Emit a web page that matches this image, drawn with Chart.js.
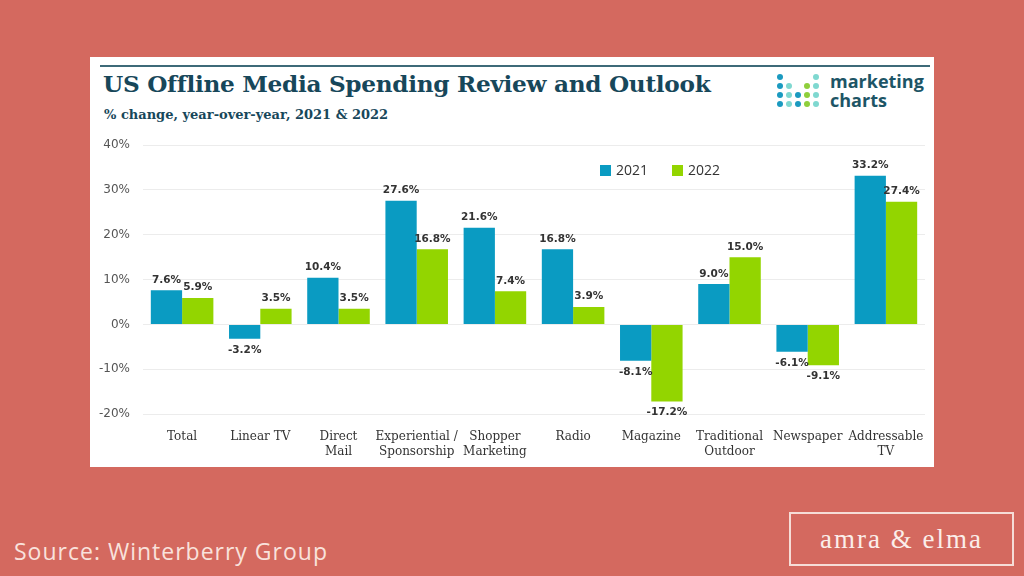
<!DOCTYPE html>
<html>
<head>
<meta charset="utf-8">
<script src="https://cdn.jsdelivr.net/npm/chart.js@4"></script>
<style>
  html, body { margin: 0; padding: 0; }
  body { width: 1024px; height: 576px; background: #d4695f; position: relative; overflow: hidden; font-family: "DejaVu Sans", sans-serif; }
  #panel { position: absolute; left: 90px; top: 57px; width: 844px; height: 410px; background: #fff; }
  #rule { position: absolute; left: 10px; top: 8px; width: 830px; height: 2px; background: #3d6a78; }
  #title { position: absolute; left: 13px; top: 13px; font-family: "DejaVu Serif", serif; font-weight: bold; font-size: 23.2px; color: #17475a; white-space: nowrap; letter-spacing: -0.3px; }
  #subtitle { position: absolute; left: 14px; top: 50px; font-family: "DejaVu Serif", serif; font-weight: bold; font-size: 13px; color: #17475a; white-space: nowrap; }
  #logo { position: absolute; left: 686px; top: 16px; }
  #logotext { position: absolute; left: 740px; top: 15px; font-family: "Open Sans", sans-serif; font-weight: bold; font-size: 18px; line-height: 19px; color: #1d5566; }
  #wrap { position: absolute; left: 90px; top: 125px; width: 844px; height: 340px; }
  #legend { position: absolute; left: 600px; top: 160px; font-family: "Open Sans", sans-serif; font-size: 14px; color: #333; }
  #legend span.sw { display: inline-block; width: 11px; height: 11px; margin-right: 5px; vertical-align: -1px; }
  #legend span.it { margin-right: 24px; }
  #source { position: absolute; left: 14px; top: 535px; font-family: "Open Sans", sans-serif; font-size: 23px; letter-spacing: 1px; color: #f9e2dc; }
  #brand { position: absolute; left: 789px; top: 512px; width: 225px; height: 54px; border: 2px solid #f6ddd7; box-sizing: border-box; color: #fbeeea; font-family: "Liberation Serif", serif; font-size: 27px; text-align: center; line-height: 50px; letter-spacing: 2px; }
</style>
</head>
<body>
<div id="panel">
  <div id="rule"></div>
  <div id="title">US Offline Media Spending Review and Outlook</div>
  <div id="subtitle">% change, year-over-year, 2021 &amp; 2022</div>
  <svg id="logo" width="44" height="40" viewBox="0 0 44 40">
    <circle cx="4" cy="4" r="3" fill="#1b9ac0"/>
    <circle cx="40" cy="4" r="3" fill="#7fd8d0"/>
    <circle cx="4" cy="13" r="3" fill="#1b9ac0"/>
    <circle cx="13" cy="13" r="3" fill="#7fd8d0"/>
    <circle cx="31" cy="13" r="3" fill="#8fcf3c"/>
    <circle cx="40" cy="13" r="3" fill="#7fd8d0"/>
    <circle cx="4" cy="22" r="3" fill="#1b9ac0"/>
    <circle cx="13" cy="22" r="3" fill="#7fd8d0"/>
    <circle cx="22" cy="22" r="3" fill="#1b9ac0"/>
    <circle cx="31" cy="22" r="3" fill="#8fcf3c"/>
    <circle cx="40" cy="22" r="3" fill="#7fd8d0"/>
    <circle cx="4" cy="31" r="3" fill="#1b9ac0"/>
    <circle cx="13" cy="31" r="3" fill="#7fd8d0"/>
    <circle cx="22" cy="31" r="3" fill="#1b9ac0"/>
    <circle cx="31" cy="31" r="3" fill="#8fcf3c"/>
    <circle cx="40" cy="31" r="3" fill="#7fd8d0"/>
  </svg>
  <div id="logotext">marketing<br>charts</div>
</div>
<div id="wrap"><canvas id="chart"></canvas></div>
<div id="legend"><span class="it"><span class="sw" style="background:#0a9bc2"></span>2021</span><span><span class="sw" style="background:#93d500"></span>2022</span></div>
<div id="source">Source: Winterberry Group</div>
<div id="brand">amra &amp; elma</div>

<script>
const categories = ["Total", "Linear TV", ["Direct", "Mail"], ["Experiential /", "Sponsorship"], ["Shopper", "Marketing"], "Radio", "Magazine", ["Traditional", "Outdoor"], "Newspaper", ["Addressable", "TV"]];
const values2021 = [7.6, -3.2, 10.4, 27.6, 21.6, 16.8, -8.1, 9.0, -6.1, 33.2];
const values2022 = [5.9, 3.5, 3.5, 16.8, 7.4, 3.9, -17.2, 15.0, -9.1, 27.4];
const yTicks = [-20, -10, 0, 10, 20, 30, 40];

// value labels above / below each bar
const barLabels = {
  id: "barLabels",
  afterDatasetsDraw(chart) {
    const ctx = chart.ctx;
    ctx.save();
    ctx.font = "bold 10.5px 'DejaVu Sans', sans-serif";
    ctx.fillStyle = "#333";
    ctx.textAlign = "center";
    chart.data.datasets.forEach((ds, i) => {
      chart.getDatasetMeta(i).data.forEach((bar, j) => {
        const v = ds.data[j];
        const txt = v.toFixed(1) + "%";
        if (v >= 0) {
          ctx.textBaseline = "bottom";
          ctx.fillText(txt, bar.x, bar.y - 5);
        } else {
          ctx.textBaseline = "top";
          ctx.fillText(txt, bar.x, bar.y + 6);
        }
      });
    });
    ctx.restore();
  }
};

new Chart(document.getElementById("chart"), {
  type: "bar",
  data: {
    labels: categories,
    datasets: [
      { label: "2021", data: values2021, backgroundColor: "#0a9bc2", barPercentage: 1.0, categoryPercentage: 0.8 },
      { label: "2022", data: values2022, backgroundColor: "#93d500", barPercentage: 1.0, categoryPercentage: 0.8 }
    ]
  },
  options: {
    responsive: true,
    maintainAspectRatio: false,
    animation: false,
    layout: { padding: { top: 9, right: 9, bottom: 0, left: 0 } },
    plugins: {
      legend: { display: false },
      tooltip: { enabled: false }
    },
    scales: {
      x: {
        grid: { display: false },
        border: { display: false },
        ticks: {
          color: "#333",
          font: { family: "'DejaVu Serif', serif", size: 12 },
          maxRotation: 0,
          autoSkip: false,
          padding: 8
        },
        afterFit(scale) { scale.height = 51; }
      },
      y: {
        min: -20,
        max: 40,
        afterBuildTicks(scale) { scale.ticks = yTicks.map(v => ({ value: v })); },
        grid: { color: "#ececec", drawTicks: false },
        border: { display: false },
        ticks: {
          color: "#555",
          font: { family: "'DejaVu Sans', sans-serif", size: 12 },
          padding: 13,
          callback: v => v + "%"
        },
        afterFit(scale) { scale.width = 53; }
      }
    }
  },
  plugins: [barLabels]
});
</script>
</body>
</html>
